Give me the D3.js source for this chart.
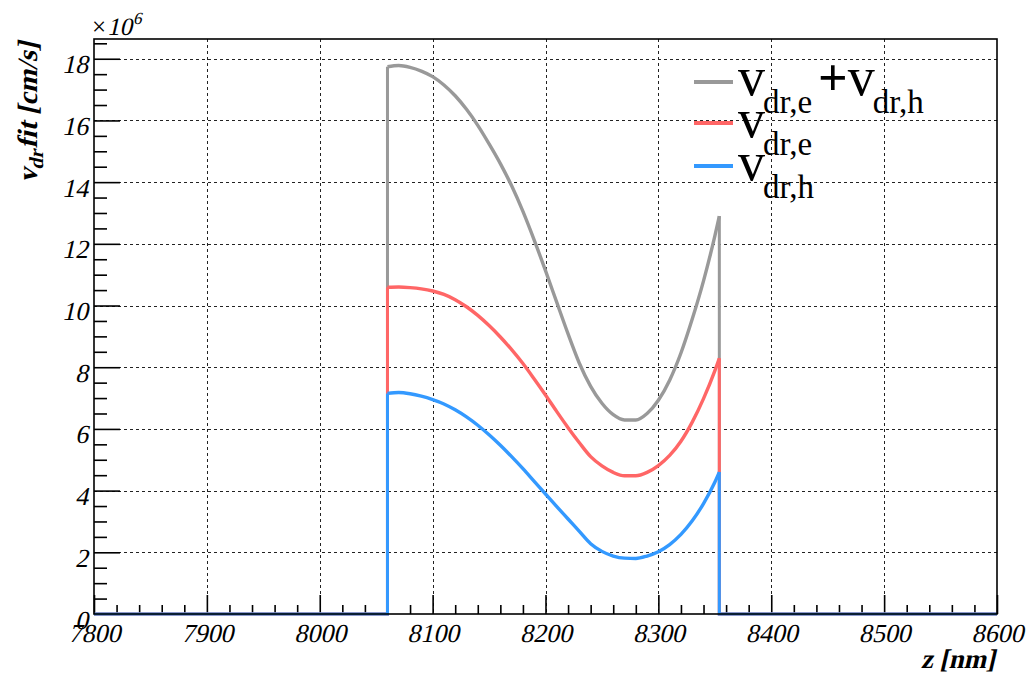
<!DOCTYPE html>
<html>
<head>
<meta charset="utf-8">
<script src="https://cdn.jsdelivr.net/npm/d3@7/dist/d3.min.js"></script>
<style>
  html, body { margin: 0; padding: 0; background: #ffffff; }
  svg { display: block; }
  svg text { font-family: "Liberation Serif", serif; font-style: normal; }
</style>
</head>
<body>
<svg id="chart" width="1026" height="681"></svg>
<script>
// ---------------- data (values in units of 1e6 cm/s) ----------------
const zNodes = [8060, 8070, 8080, 8090, 8100, 8110, 8120, 8130, 8140, 8150,
                8160, 8170, 8180, 8190, 8200, 8210, 8220, 8230, 8240, 8250,
                8260, 8270, 8280, 8290, 8300, 8310, 8320, 8330, 8340, 8350, 8354];
const sumVals = [17.74, 17.78, 17.72, 17.60, 17.42, 17.15, 16.80, 16.36, 15.84, 15.24,
                 14.60, 13.88, 13.05, 12.12, 11.13, 10.10, 9.08, 8.13, 7.38, 6.83,
                 6.46, 6.29, 6.29, 6.50, 6.93, 7.58, 8.46, 9.56, 10.80, 12.25, 12.90];
const eVals = [10.59, 10.60, 10.58, 10.54, 10.47, 10.36, 10.19, 9.96, 9.68, 9.35,
               8.98, 8.57, 8.12, 7.62, 7.10, 6.56, 6.04, 5.55, 5.10, 4.80,
               4.59, 4.48, 4.48, 4.59, 4.81, 5.14, 5.60, 6.22, 6.98, 7.88, 8.29];
const hVals = [7.15, 7.18, 7.14, 7.06, 6.95, 6.81, 6.62, 6.39, 6.12, 5.81,
               5.47, 5.10, 4.71, 4.30, 3.89, 3.48, 3.08, 2.68, 2.28, 2.03,
               1.88, 1.81, 1.80, 1.88, 2.02, 2.25, 2.58, 3.02, 3.58, 4.27, 4.60];
const xDomain = [7800, 8600];
const yDomain = [0, 18.64];
const xMajorTicks = [7800, 7900, 8000, 8100, 8200, 8300, 8400, 8500, 8600];
const yMajorTicks = [0, 2, 4, 6, 8, 10, 12, 14, 16, 18];
const seriesColors = ["#999999", "#ff6666", "#3399ff"];

// ---------------- layout ----------------
const L = 94, R = 997, T = 39, B = 614;
const SKEW = -13;
const svg = d3.select("#chart");
const x = d3.scaleLinear().domain(xDomain).range([L, R]);
const y = d3.scaleLinear().domain(yDomain).range([B, T]);
const serif = "\"Liberation Serif\", serif";

// grid
const grid = svg.append("g");
grid.selectAll("line.gx").data(xMajorTicks.filter(d => d > xDomain[0] && d < xDomain[1]))
  .enter().append("line")
  .attr("x1", d => Math.round(x(d)) + 0.5).attr("x2", d => Math.round(x(d)) + 0.5).attr("y1", T).attr("y2", B)
  .attr("stroke", "#222").attr("stroke-width", 1).attr("stroke-dasharray", "3,3");
grid.selectAll("line.gy").data(yMajorTicks.filter(d => d > 0))
  .enter().append("line")
  .attr("x1", L).attr("x2", R).attr("y1", d => Math.round(y(d)) + 0.5).attr("y2", d => Math.round(y(d)) + 0.5)
  .attr("stroke", "#222").attr("stroke-width", 1).attr("stroke-dasharray", "3,3");

// axes
const xMinor = d3.range(xDomain[0], xDomain[1] + 0.001, 20).filter(d => d % 100 !== 0);
const yMinor = d3.range(0, yDomain[1], 0.5).filter(d => d % 2 !== 0);

const gxMinor = svg.append("g").attr("transform", `translate(0,${B})`)
  .call(d3.axisBottom(x).tickValues(xMinor).tickSize(-9).tickFormat(""));
const gx = svg.append("g").attr("transform", `translate(0,${B})`)
  .call(d3.axisBottom(x).tickValues(xMajorTicks).tickSize(-19).tickFormat(d3.format("d")));
const gyMinor = svg.append("g").attr("transform", `translate(${L},0)`)
  .call(d3.axisLeft(y).tickValues(yMinor).tickSize(-13).tickFormat(""));
const gy = svg.append("g").attr("transform", `translate(${L},0)`)
  .call(d3.axisLeft(y).tickValues(yMajorTicks).tickSize(-26).tickFormat(d3.format("d")));

[gxMinor, gx, gyMinor, gy].forEach(g => {
  g.attr("font-family", null).attr("font-size", null);
  g.select(".domain").remove();
  g.selectAll(".tick line").attr("stroke", "#000").attr("stroke-width", 1.6);
  g.selectAll("text").style("font-family", serif).style("font-size", "26px").attr("fill", "#000");
});
// slanted (italic-looking) tick labels
gx.selectAll(".tick text").attr("x", 0).attr("y", 0).attr("dy", 0)
  .attr("transform", `translate(0,28) skewX(${SKEW})`);
gy.selectAll(".tick text").attr("x", 0).attr("y", 0).attr("dy", 0)
  .attr("transform", `translate(-6,14) skewX(${SKEW})`);

// series
const lineCurve = d3.line().x(d => x(d[0])).y(d => y(d[1])).curve(d3.curveMonotoneX);
const lineLin = d3.line().x(d => x(d[0])).y(d => y(d[1]));
const allVals = [sumVals, eVals, hVals];
const plot = svg.append("g");
allVals.forEach((vals, i) => {
  const pts = zNodes.map((z, k) => [z, vals[k]]);
  const first = pts[0], last = pts[pts.length - 1];
  const edge = [[xDomain[0], 0], [first[0], 0], first];
  const edge2 = [last, [last[0], 0], [xDomain[1], 0]];
  [edge, edge2].forEach(e => plot.append("path").attr("d", lineLin(e))
    .attr("fill", "none").attr("stroke", seriesColors[i]).attr("stroke-width", 3));
  plot.append("path").attr("d", lineCurve(pts))
    .attr("fill", "none").attr("stroke", seriesColors[i]).attr("stroke-width", 3.4);
});

// frame
svg.append("rect").attr("x", L).attr("y", T).attr("width", R - L).attr("height", B - T)
  .attr("fill", "none").attr("stroke", "#000").attr("stroke-width", 1.6);

// exponent label
svg.append("text").attr("x", 92).attr("y", 35).style("font-size", "25px").attr("fill", "#000").text("\u00d7");
svg.append("text").attr("transform", `translate(107,35) skewX(${SKEW})`)
  .style("font-size", "25px").attr("fill", "#000").text("10");
svg.append("text").attr("transform", `translate(133,24) skewX(${SKEW})`)
  .style("font-size", "17px").attr("fill", "#000").text("6");

// axis titles
svg.append("text").attr("transform", `translate(995,668) skewX(${SKEW})`).attr("text-anchor", "end")
  .style("font-weight", "bold").style("font-size", "27px").attr("fill", "#000").text("z [nm]");

const yt = svg.append("text").attr("transform", `translate(37,42) rotate(-90) skewX(${SKEW})`)
  .attr("text-anchor", "end").style("font-weight", "bold").style("font-size", "28px").attr("fill", "#000");
yt.append("tspan").text("v");
yt.append("tspan").style("font-size", "20px").attr("dy", 6).text("dr");
yt.append("tspan").attr("dy", -6).text("fit [cm/s]");

// legend
const legendRows = [
  { lineY: 82, textY: 95, parts: [["v", 0], ["dr,e", 1], ["+", 2], ["v", 0], ["dr,h", 1]] },
  { lineY: 123, textY: 137, parts: [["v", 0], ["dr,e", 1]] },
  { lineY: 166, textY: 180, parts: [["v", 0], ["dr,h", 1]] }
];
const lg = svg.append("g");
legendRows.forEach((row, i) => {
  lg.append("line").attr("x1", 694).attr("x2", 733).attr("y1", row.lineY).attr("y2", row.lineY)
    .attr("stroke", seriesColors[i]).attr("stroke-width", 4);
  const t = lg.append("text").attr("x", 738).attr("y", row.textY).attr("fill", "#000");
  let prevSub = false;
  row.parts.forEach(([s, kind]) => {
    const ts = t.append("tspan").text(s);
    if (kind === 1) {
      ts.style("font-size", "33px").attr("dy", prevSub ? 0 : 18).attr("dx", -2);
      prevSub = true;
    } else {
      ts.style("font-size", kind === 2 ? "52px" : "54px").attr("dy", prevSub ? -18 : 0);
      if (kind === 2) ts.style("font-weight", "bold").attr("dx", 6);
      prevSub = false;
    }
  });
});
</script>
</body>
</html>
